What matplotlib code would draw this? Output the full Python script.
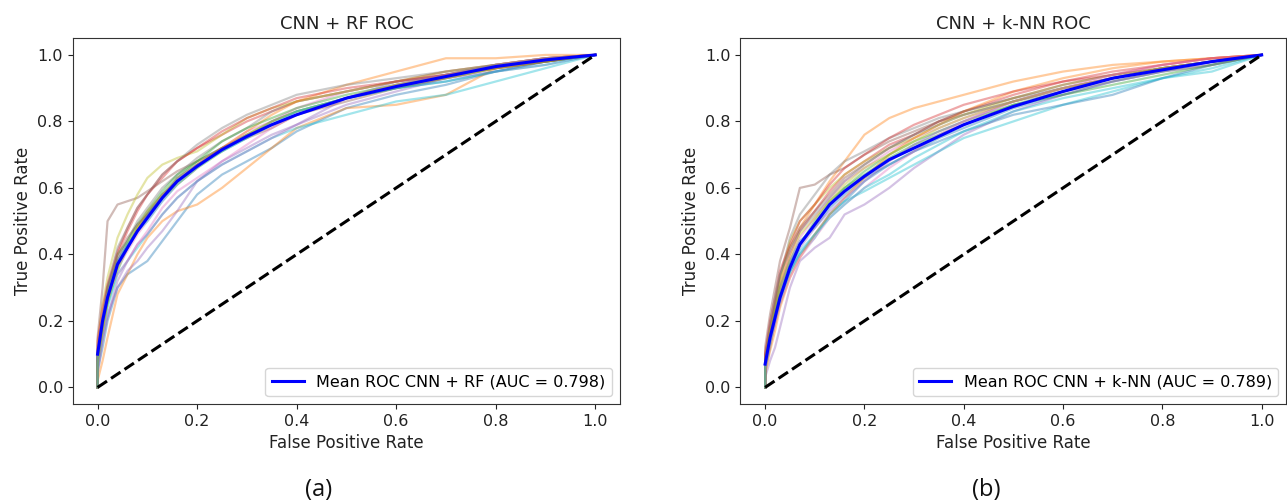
import numpy as np
import matplotlib
matplotlib.use("Agg")
import matplotlib.pyplot as plt

# ── Data ─────────────────────────────────────────────────────────────────────
# false positive rate grid for the RF folds (a) and k-NN folds (b)
fpr_rf = [0, .01, .02, .04, .06, .08, .1, .13, .16, .2, .25, .3, .35, .4, .5, .6, .7, .8, .9, 1.0]
fpr_knn = [0, .01, .02, .03, .05, .07, .1, .13, .16, .2, .25, .3, .35, .4, .5, .6, .7, .8, .9, 1.0]

mean_rf = [.10, .20, .27, .37, .42, .47, .51, .57, .62, .665, .715, .755, .79, .82, .87, .905, .935, .965, .985, 1.0]
mean_knn = [.07, .15, .21, .27, .36, .43, .49, .55, .59, .635, .685, .72, .755, .79, .845, .89, .93, .955, .98, 1.0]

auc_rf = 0.798
auc_knn = 0.789

folds_rf = [
    [.05, .12, .20, .30, .34, .36, .38, .44, .50, .58, .64, .68, .72, .77, .84, .88, .91, .95, .98, 1],
    [.02, .08, .15, .28, .34, .40, .45, .50, .53, .55, .60, .66, .72, .78, .84, .85, .88, .96, .99, 1],
    [.08, .18, .25, .35, .42, .48, .52, .58, .63, .68, .72, .76, .80, .83, .87, .90, .93, .96, .98, 1],
    [.12, .22, .30, .40, .47, .53, .58, .63, .68, .72, .76, .80, .83, .86, .89, .92, .95, .97, .99, 1],
    [.06, .15, .22, .30, .35, .38, .42, .47, .53, .62, .68, .72, .76, .79, .87, .92, .94, .97, .99, 1],
    [.15, .30, .50, .55, .56, .57, .59, .62, .65, .68, .72, .76, .79, .82, .87, .91, .94, .97, .99, 1],
    [.10, .20, .28, .36, .41, .46, .50, .56, .61, .66, .72, .77, .80, .84, .89, .92, .94, .97, .99, 1],
    [.09, .19, .26, .38, .44, .50, .54, .60, .64, .69, .74, .78, .83, .86, .89, .92, .94, .96, .98, 1],
    [.13, .25, .33, .45, .52, .58, .63, .67, .69, .71, .76, .81, .84, .86, .89, .92, .95, .97, .99, 1],
    [.07, .16, .24, .34, .38, .42, .46, .52, .57, .62, .67, .71, .75, .78, .82, .86, .88, .92, .96, 1],
    [.11, .21, .29, .38, .43, .47, .52, .58, .62, .67, .71, .75, .80, .83, .87, .90, .92, .95, .98, 1],
    [.09, .17, .26, .37, .42, .48, .53, .58, .62, .67, .72, .77, .82, .86, .91, .95, .99, .99, 1, 1],
    [.10, .20, .30, .40, .44, .49, .53, .59, .64, .68, .74, .78, .81, .84, .88, .91, .94, .97, .98, 1],
    [.14, .24, .31, .41, .48, .54, .58, .64, .68, .72, .77, .81, .84, .87, .90, .92, .94, .96, .98, 1],
    [.04, .14, .21, .32, .38, .43, .46, .52, .57, .62, .67, .71, .75, .79, .85, .89, .93, .95, .97, 1],
    [.08, .18, .27, .39, .45, .49, .52, .57, .63, .67, .72, .75, .78, .82, .86, .90, .93, .96, .98, 1],
    [.12, .22, .28, .34, .38, .43, .47, .54, .59, .63, .68, .73, .78, .82, .87, .91, .94, .97, .99, 1],
    [.10, .21, .30, .42, .48, .54, .58, .64, .68, .73, .78, .82, .85, .88, .91, .93, .95, .97, .99, 1],
    [.07, .17, .26, .36, .43, .48, .51, .57, .61, .66, .71, .76, .80, .83, .87, .91, .93, .96, .98, 1],
    [.09, .19, .27, .37, .43, .47, .50, .56, .61, .66, .71, .75, .79, .83, .87, .90, .92, .95, .97, 1],
]

folds_knn = [
    [.05, .12, .20, .26, .35, .40, .46, .52, .56, .62, .67, .71, .75, .78, .84, .88, .92, .95, .98, 1],
    [.10, .18, .25, .32, .42, .48, .55, .62, .68, .76, .81, .84, .86, .88, .92, .95, .97, .98, .99, 1],
    [.06, .14, .21, .27, .36, .43, .49, .55, .60, .64, .69, .73, .76, .79, .85, .89, .93, .96, .98, 1],
    [.09, .17, .24, .30, .40, .47, .53, .59, .64, .68, .73, .76, .80, .83, .88, .92, .95, .97, .99, 1],
    [.03, .08, .12, .18, .30, .38, .42, .45, .52, .55, .60, .66, .71, .76, .83, .88, .92, .95, .97, 1],
    [.12, .22, .30, .38, .48, .60, .61, .64, .66, .70, .74, .77, .80, .82, .86, .90, .93, .96, .98, 1],
    [.07, .16, .22, .28, .38, .45, .51, .57, .62, .66, .71, .75, .78, .81, .86, .90, .93, .96, .98, 1],
    [.08, .18, .25, .33, .45, .52, .58, .64, .68, .71, .75, .78, .81, .83, .87, .90, .93, .96, .98, 1],
    [.06, .15, .24, .32, .44, .50, .55, .60, .64, .68, .72, .75, .79, .82, .87, .91, .94, .96, .98, 1],
    [.05, .13, .19, .25, .34, .40, .45, .52, .56, .59, .63, .67, .71, .75, .80, .85, .89, .93, .96, 1],
    [.08, .16, .23, .30, .38, .44, .48, .54, .58, .63, .67, .71, .74, .77, .82, .85, .88, .93, .97, 1],
    [.04, .11, .17, .24, .33, .39, .46, .52, .57, .63, .70, .75, .79, .83, .89, .93, .96, .98, .99, 1],
    [.07, .15, .22, .28, .37, .43, .50, .56, .60, .65, .70, .74, .77, .80, .85, .88, .91, .94, .97, 1],
    [.10, .20, .27, .35, .43, .50, .55, .61, .66, .70, .75, .79, .82, .85, .89, .92, .94, .97, .99, 1],
    [.06, .14, .20, .27, .35, .42, .48, .53, .57, .62, .68, .73, .77, .80, .86, .90, .93, .96, .98, 1],
    [.07, .17, .26, .34, .42, .48, .53, .58, .63, .67, .72, .76, .80, .83, .87, .91, .94, .96, .98, 1],
    [.05, .13, .19, .25, .33, .39, .45, .51, .55, .60, .66, .71, .76, .80, .86, .90, .94, .97, .99, 1],
    [.09, .19, .27, .34, .41, .47, .52, .57, .62, .67, .72, .76, .79, .82, .86, .89, .92, .95, .97, 1],
    [.08, .17, .23, .30, .39, .46, .51, .56, .61, .66, .70, .74, .78, .81, .86, .90, .93, .96, .98, 1],
    [.06, .14, .21, .27, .35, .41, .46, .51, .55, .60, .64, .69, .73, .77, .83, .87, .90, .93, .95, 1],
]

panels = [
    ("CNN + RF ROC", "Mean ROC CNN + RF", fpr_rf, folds_rf, mean_rf, auc_rf, "(a)"),
    ("CNN + k-NN ROC", "Mean ROC CNN + k-NN", fpr_knn, folds_knn, mean_knn, auc_knn, "(b)"),
]

# ── Plot ──────────────────────────────────────────────────────────────────────
fig = plt.figure(figsize=(12.87, 5.04), dpi=100)
ax_pos = [[0.0565, 0.1984, 0.4253, 0.7256],
          [0.5752, 0.1984, 0.4244, 0.7256]]
cycle = plt.rcParams["axes.prop_cycle"].by_key()["color"]
txt = "#222222"

for (title, mean_label, fpr, folds, mean_tpr, auc, tag), pos in zip(panels, ax_pos):
    ax = fig.add_axes(pos)
    for i, tpr in enumerate(folds):
        ax.plot([0] + fpr, [0] + tpr, color=cycle[i % 10], lw=1.6, alpha=0.4)
    ax.plot(fpr, mean_tpr, color="blue", lw=2.2,
            label=f"{mean_label} (AUC = {auc:.3f})")
    ax.plot([0, 1], [0, 1], "k--", lw=2.2)
    ax.set_xlim(-0.05, 1.05)
    ax.set_ylim(-0.05, 1.05)
    ax.set_xticks(np.arange(0, 1.01, 0.2))
    ax.set_yticks(np.arange(0, 1.01, 0.2))
    ax.tick_params(labelsize=11.5, colors=txt)
    ax.set_xlabel("False Positive Rate", fontsize=12, color=txt)
    ax.set_ylabel("True Positive Rate", fontsize=12, color=txt)
    ax.set_title(title, fontsize=13, color=txt, pad=7)
    ax.legend(loc="lower right", fontsize=11.5)
    for s in ax.spines.values():
        s.set_color("#333333")
    fig.text(pos[0] + pos[2] * 0.45, 0.004, tag, ha="center", va="bottom",
             fontsize=17, family="Open Sans", color="#111111")

fig.savefig("out.png", dpi=100)
